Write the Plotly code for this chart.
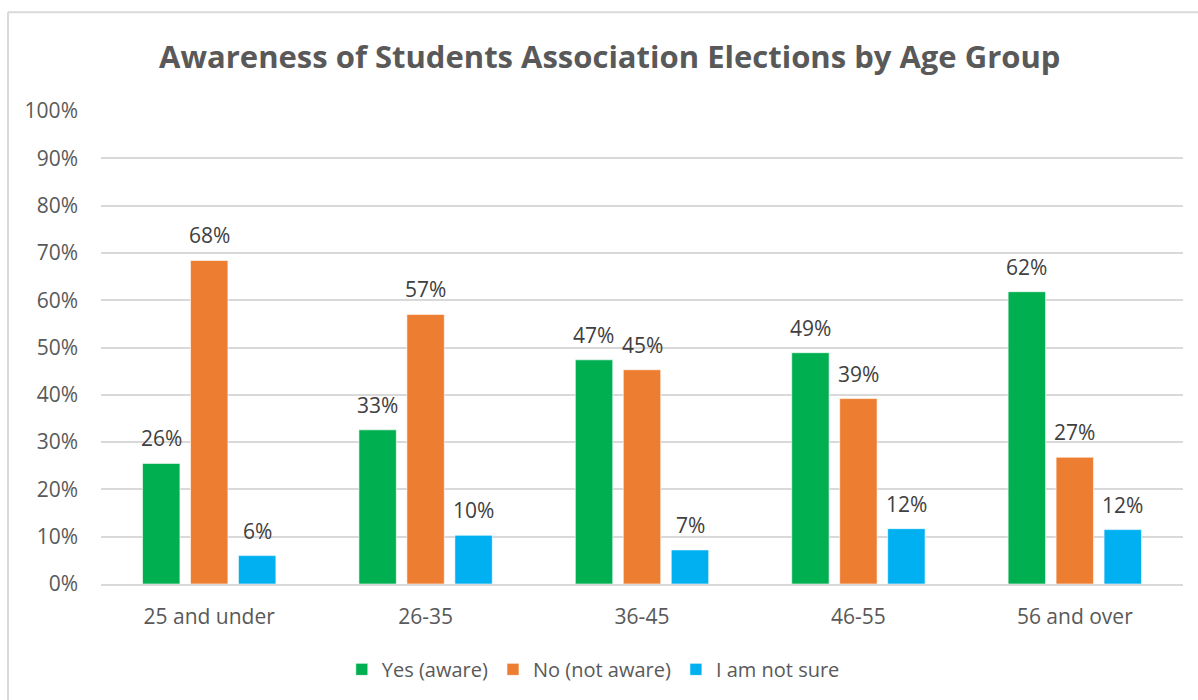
import plotly.graph_objects as go

categories = ["25 and under", "26-35", "36-45", "46-55", "56 and over"]
yes_aware = [25.5, 32.6, 47.4, 48.9, 61.8]
no_not_aware = [68.4, 57.0, 45.3, 39.2, 26.8]
not_sure = [6.0, 10.3, 7.2, 11.7, 11.5]
series_names = ["Yes (aware)", "No (not aware)", "I am not sure"]
colors = ["#00B050", "#ED7D31", "#00B0F0"]
tick_vals = [0, 10, 20, 30, 40, 50, 60, 70, 80, 90, 100]
tick_text = [f"{v}%" for v in tick_vals]

FONT = "Open Sans"
fig = go.Figure()
all_series = [yes_aware, no_not_aware, not_sure]
for name, vals, col in zip(series_names, all_series, colors):
    fig.add_trace(go.Bar(
        x=categories, y=vals, name=name,
        marker=dict(color=col, line=dict(color="rgba(255,255,255,0.6)", width=1)),
    ))

# data labels as annotations (offset per series within the group)
slot_px = 48.1
for i, vals in enumerate(all_series):
    for c, v in zip(categories, vals):
        fig.add_annotation(x=c, y=v, text=f"{round(v):d}%", showarrow=False,
                           xshift=(i - 1) * slot_px, yshift=9, yanchor="bottom",
                           font=dict(family=FONT, size=21, color="#404040"))

fig.update_layout(
    width=1198, height=700,
    margin=dict(l=101, r=15, t=111, b=115),
    paper_bgcolor="white", plot_bgcolor="white",
    barmode="group", bargap=0.335, bargroupgap=0.22,
    title=dict(text="<b>Awareness of Students Association Elections by Age Group</b>",
               x=0.509, xanchor="center", y=0.918, yanchor="middle",
               font=dict(family=FONT, size=31, color="#595959")),
    xaxis=dict(showgrid=False, showline=True, linecolor="#D9D9D9", linewidth=2,
               ticks="", ticklabelstandoff=13,
               tickfont=dict(family=FONT, size=21, color="#595959")),
    yaxis=dict(range=[0, 100], tickvals=tick_vals, ticktext=tick_text,
               showgrid=True, gridcolor="#D9D9D9", gridwidth=1.5, zeroline=False,
               ticks="", ticklabelstandoff=22,
               tickfont=dict(family=FONT, size=21, color="#595959")),
    legend=dict(orientation="h", x=0.455, xanchor="center", y=-0.178, yanchor="middle",
                font=dict(family=FONT, size=20, color="#595959"),
                itemwidth=30, traceorder="normal"),
    shapes=[
        dict(type="line", xref="paper", yref="paper",
             x0=-93/1082, x1=1.05, y0=1 + 99/474, y1=1 + 99/474,
             line=dict(color="#D9D9D9", width=2)),
        dict(type="line", xref="paper", yref="paper",
             x0=-93/1082, x1=-93/1082, y0=1 + 99/474, y1=-0.25,
             line=dict(color="#D9D9D9", width=2)),
    ],
)
fig.write_html("out.html")
